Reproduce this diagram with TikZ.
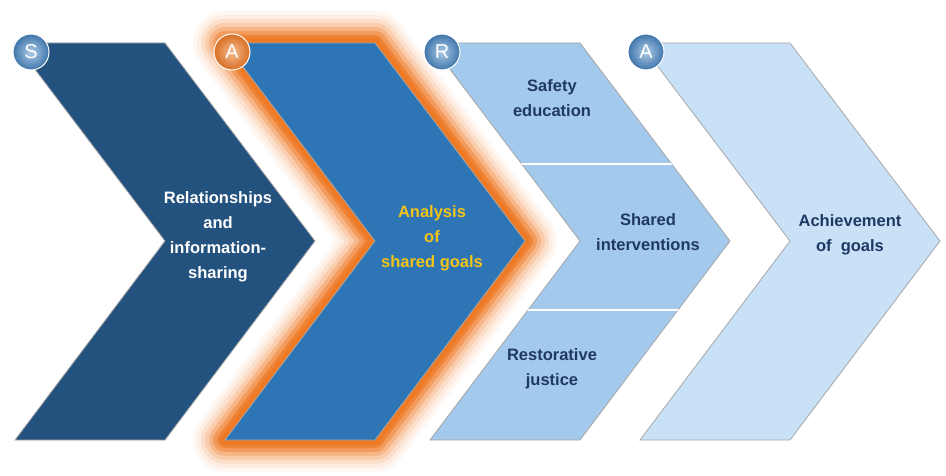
\documentclass[tikz,border=0pt]{standalone}
\usepackage{fontspec}
\setmainfont{Liberation Sans}
\usetikzlibrary{shadings}
\definecolor{cA}{HTML}{24527F}
\definecolor{cB}{HTML}{2E75B6}
\definecolor{cC}{HTML}{A3C9EC}
\definecolor{cD}{HTML}{C9E1F7}
\definecolor{tD}{HTML}{1F3864}
\definecolor{gold}{HTML}{F2C318}
\definecolor{org}{HTML}{EE7A26}
\definecolor{bl}{HTML}{4A8AC9}
\begin{document}
\begin{tikzpicture}[x=1pt,y=-1pt,
  lbl/.style={font=\fontsize{16.5}{25}\selectfont\bfseries,align=center},
  ball/.style={circle,minimum size=36pt,inner sep=0pt,inner color=bl!45!white,outer color=bl!85!black,draw=white,line width=1pt,text=white,font=\fontsize{20}{20}\selectfont},
  edge/.style={draw=black!35,line width=0.8pt}]
\useasboundingbox (0,0) rectangle (946,476);
\def\chev#1{(#1,43) -- ++(150,0) -- ++(150,198) -- ++(-150,199) -- ++(-150,0) -- ++(150,-199) -- cycle}
% glow
\foreach \w/\o in {64/0.06,56/0.08,48/0.12,40/0.18,32/0.28,24/0.45,16/0.7,10/1}
  \draw[org,opacity=\o,line width=\w pt,line join=round] \chev{225};
\fill[cA,edge] \chev{15};
\fill[cB,edge] \chev{225};
\fill[cC,edge] \chev{430};
\fill[cD,edge] \chev{640};
\begin{scope}
\clip \chev{430};
\draw[white,line width=2.5pt] (400,164) -- (760,164);
\draw[white,line width=2.5pt] (400,310) -- (760,310);
\end{scope}
\node[lbl,text=white] (t1) at (218,237) {Relationships\\and\\information-\\sharing};
\node[lbl,text=gold] (t2) at (432,238) {Analysis\\of\\shared goals};
\node[lbl,text=tD] (t3a) at (552,98) {Safety\\education};
\node[lbl,text=tD] (t3b) at (648,232) {Shared\\interventions};
\node[lbl,text=tD] (t3c) at (552,369) {Restorative\\justice};
\node[lbl,text=tD] (t4) at (850,235) {Achievement\\of~~goals};
\node[ball] (b1) at (31,52) {S};
\node[ball,inner color=org!50!white,outer color=org!90!black] (b2) at (232,52) {A};
\node[ball] (b3) at (442,52) {R};
\node[ball] (b4) at (646,52) {A};
\end{tikzpicture}
\end{document}
